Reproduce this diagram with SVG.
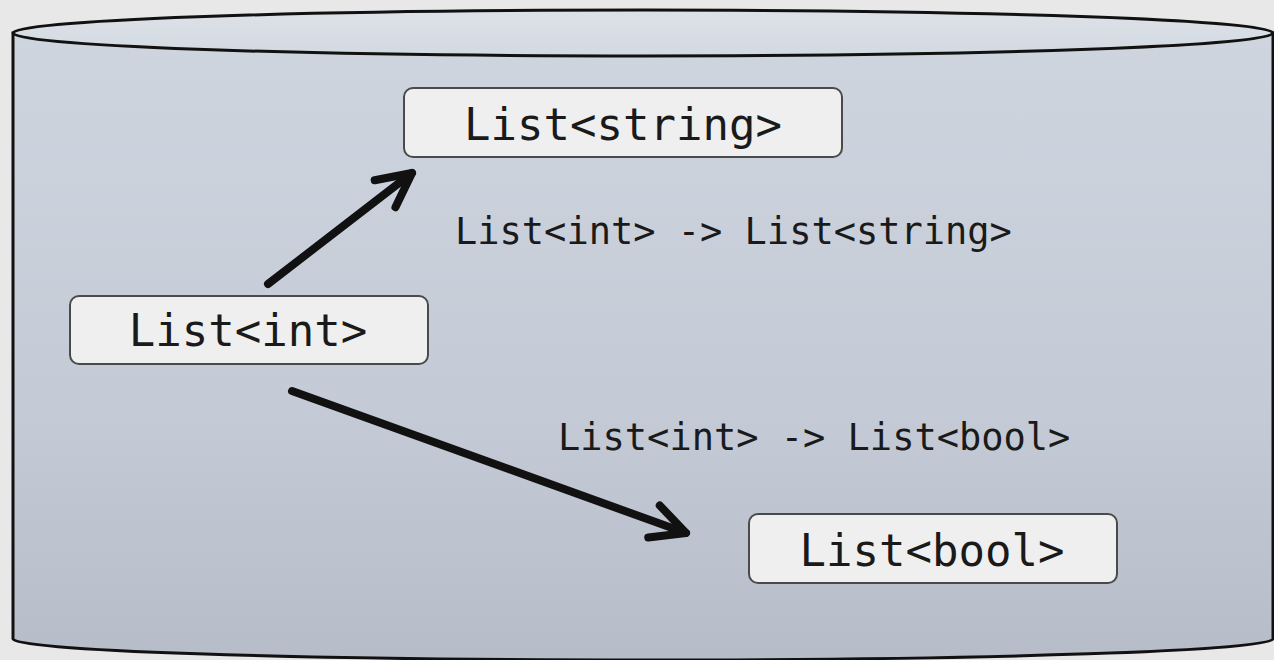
<svg xmlns="http://www.w3.org/2000/svg" width="1274" height="660" viewBox="0 0 1274 660">
  <defs>
    <linearGradient id="bodyFill" x1="0" y1="0" x2="0" y2="1">
      <stop offset="0" stop-color="#cfd5df"/>
      <stop offset="0.6" stop-color="#c4cbd6"/>
      <stop offset="1" stop-color="#b7bdc8"/>
    </linearGradient>
    <linearGradient id="capFill" x1="0" y1="0" x2="0" y2="1">
      <stop offset="0" stop-color="#dde2e8"/>
      <stop offset="1" stop-color="#d3d9e1"/>
    </linearGradient>
    <marker id="chevron" markerUnits="userSpaceOnUse" markerWidth="60" markerHeight="60" viewBox="-45 -30 60 60" refX="0" refY="0" orient="auto">
      <path d="M -34 -17 L 0 0 L -34 17" fill="none" stroke="#111" stroke-width="8" stroke-linecap="round" stroke-linejoin="round"/>
    </marker>
    <style>
      .node rect { fill: #efefef; stroke: #4a4a4a; stroke-width: 2; }
      .node text { font-family: "DejaVu Sans Mono", "Liberation Mono", monospace; font-size: 44px; fill: #1a1a1a; text-anchor: middle; }
      .label { font-family: "DejaVu Sans Mono", "Liberation Mono", monospace; font-size: 37px; fill: #1a1a1a; }
      .edge { fill: none; stroke: #111; stroke-width: 8; stroke-linecap: round; marker-end: url(#chevron); }
    </style>
  </defs>

  <!-- page background -->
  <rect x="0" y="0" width="1274" height="660" fill="#e8e8e8"/>

  <!-- cylinder container -->
  <g id="cylinder">
    <path d="M 13 33 L 13 639 A 630 21 0 0 0 1273 639 L 1273 33 Z" fill="url(#bodyFill)" stroke="#111" stroke-width="3"/>
    <ellipse cx="643" cy="33" rx="630" ry="23" fill="url(#capFill)" stroke="#111" stroke-width="3"/>
  </g>

  <!-- connectors -->
  <g id="connectors">
    <line class="edge" x1="268" y1="284" x2="412" y2="173"/>
    <line class="edge" x1="292" y1="391" x2="686" y2="533"/>
  </g>

  <!-- nodes -->
  <g id="node-string" class="node">
    <rect x="404" y="88" width="438" height="69" rx="9"/>
    <text x="623" y="140">List&lt;string&gt;</text>
  </g>
  <g id="node-int" class="node">
    <rect x="70" y="296" width="358" height="68" rx="9"/>
    <text x="248" y="346">List&lt;int&gt;</text>
  </g>
  <g id="node-bool" class="node">
    <rect x="749" y="514" width="368" height="69" rx="9"/>
    <text x="932" y="566">List&lt;bool&gt;</text>
  </g>

  <!-- transformation labels -->
  <text class="label" x="455" y="244">List&lt;int&gt; -&gt; List&lt;string&gt;</text>
  <text class="label" x="558" y="450">List&lt;int&gt; -&gt; List&lt;bool&gt;</text>
</svg>
